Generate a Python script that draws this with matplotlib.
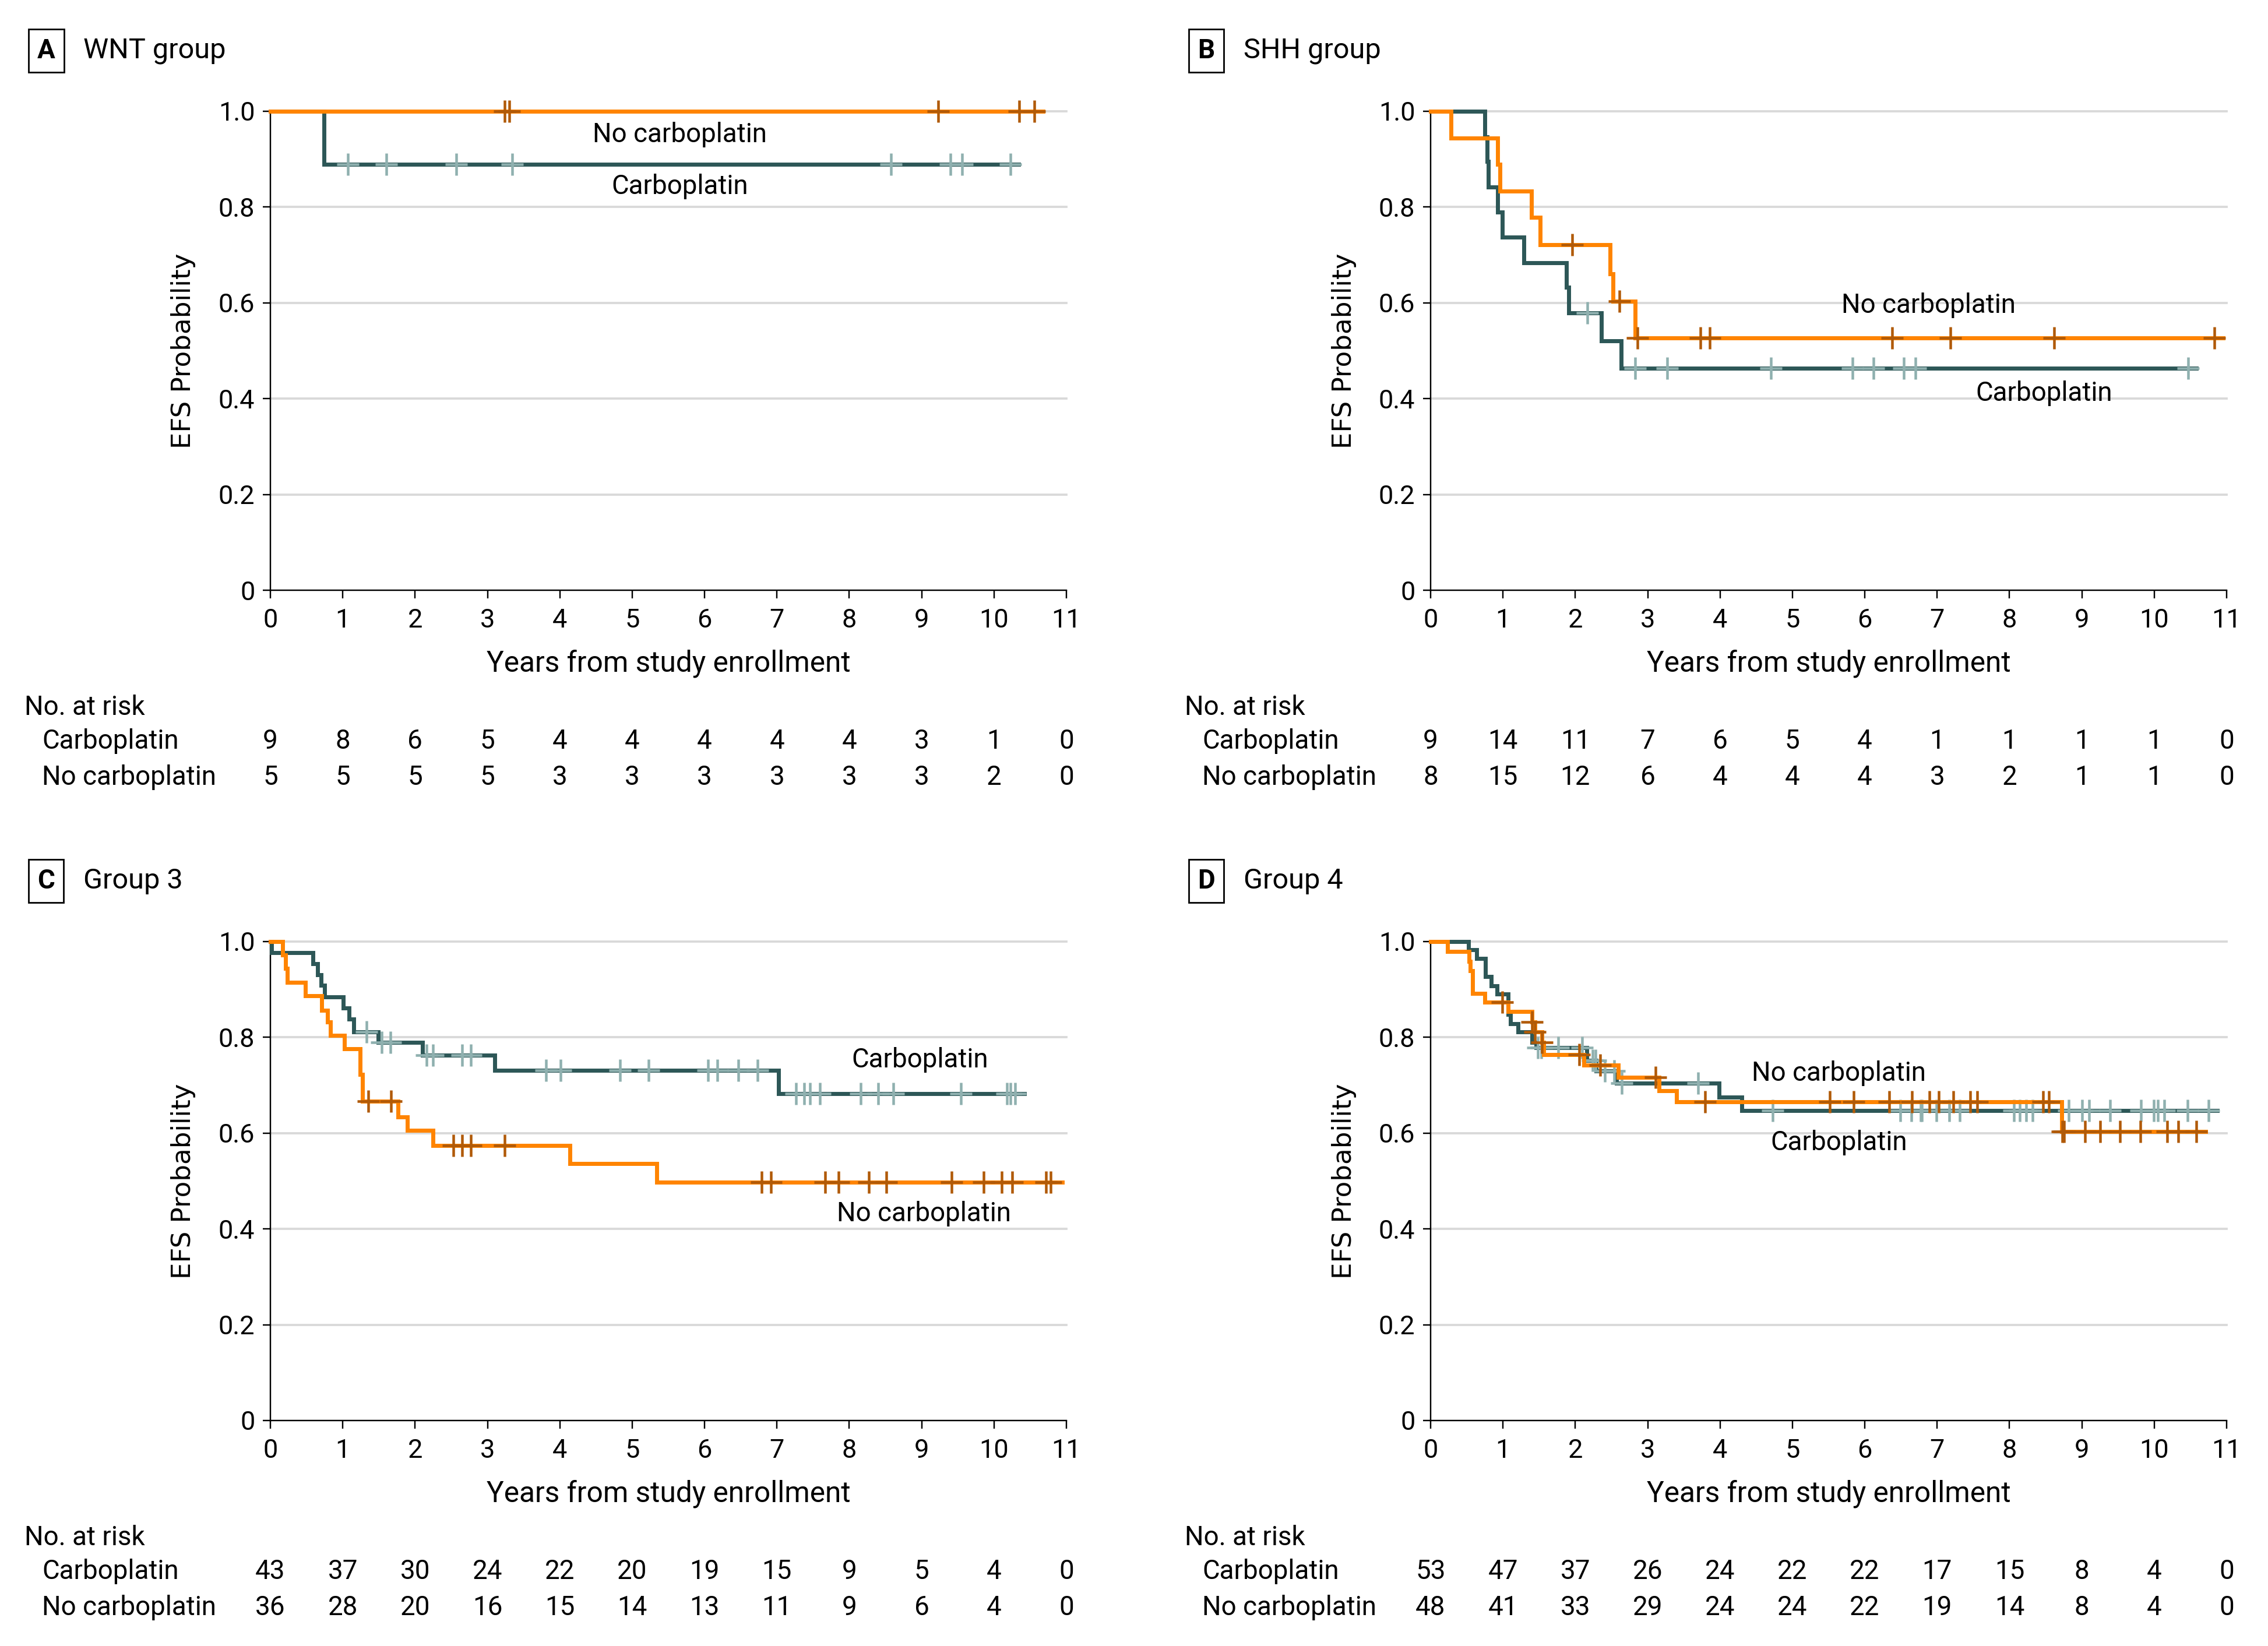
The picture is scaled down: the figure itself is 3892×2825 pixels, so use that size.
import numpy as np
import matplotlib
matplotlib.use("Agg")
import matplotlib.pyplot as plt
from matplotlib import font_manager as fm
from matplotlib.transforms import blended_transform_factory

# ---------------- data ----------------
years = list(range(12))

# WNT group
wnt_carbo_t = [0.74]
wnt_carbo_s = [0.889]
wnt_carbo_cens = [1.07, 1.60, 2.57, 3.34, 8.58, 9.40, 9.56, 10.23]
wnt_carbo_end = 10.34
wnt_nocarbo_t = []
wnt_nocarbo_s = []
wnt_nocarbo_cens = [3.24, 3.30, 9.23, 10.35, 10.56]
wnt_nocarbo_end = 10.68
wnt_risk_carbo = [9, 8, 6, 5, 4, 4, 4, 4, 4, 3, 1, 0]
wnt_risk_nocarbo = [5, 5, 5, 5, 3, 3, 3, 3, 3, 3, 2, 0]

# SHH group
shh_carbo_t = [0.75, 0.78, 0.80, 0.93, 0.99, 1.29, 1.88, 1.91, 2.36, 2.63]
shh_carbo_s = [0.947, 0.895, 0.842, 0.789, 0.737, 0.684, 0.632, 0.579, 0.521, 0.463]
shh_carbo_cens = [2.17, 2.83, 3.27, 4.70, 5.83, 6.12, 6.54, 6.70, 10.47]
shh_carbo_end = 10.58
shh_nocarbo_t = [0.28, 0.93, 0.96, 1.39, 1.51, 2.48, 2.52, 2.83]
shh_nocarbo_s = [0.944, 0.889, 0.833, 0.778, 0.722, 0.660, 0.603, 0.527]
shh_nocarbo_cens = [1.96, 2.61, 2.86, 3.73, 3.86, 6.38, 7.18, 8.62, 10.83]
shh_nocarbo_end = 10.95
shh_risk_carbo = [9, 14, 11, 7, 6, 5, 4, 1, 1, 1, 1, 0]
shh_risk_nocarbo = [8, 15, 12, 6, 4, 4, 4, 3, 2, 1, 1, 0]

# Group 3
g3_carbo_t = [0.02, 0.59, 0.65, 0.70, 0.75, 1.01, 1.09, 1.15, 1.49, 2.10, 3.10, 7.02]
g3_carbo_s = [0.977, 0.954, 0.931, 0.909, 0.884, 0.861, 0.838, 0.812, 0.789, 0.763, 0.731, 0.682]
g3_carbo_cens = [1.33, 1.54, 1.66, 2.16, 2.25, 2.65, 2.77, 3.81, 4.01, 4.83, 5.23, 6.05,
                 6.18, 6.47, 6.73, 7.26, 7.38, 7.46, 7.59, 8.16, 8.40, 8.61, 9.54,
                 10.18, 10.23, 10.29]
g3_carbo_end = 10.42
g3_nocarbo_t = [0.17, 0.21, 0.23, 0.48, 0.71, 0.79, 0.83, 1.02, 1.24, 1.27, 1.76, 1.89,
                2.25, 4.14, 5.34]
g3_nocarbo_s = [0.972, 0.944, 0.915, 0.887, 0.857, 0.832, 0.804, 0.776, 0.723, 0.667,
                0.634, 0.606, 0.574, 0.536, 0.498]
g3_nocarbo_cens = [1.35, 1.67, 2.53, 2.65, 2.77, 3.24, 6.79, 6.92, 7.67, 7.85, 8.27, 8.51,
                   9.41, 9.86, 10.11, 10.25, 10.72, 10.78]
g3_nocarbo_end = 10.94
g3_risk_carbo = [43, 37, 30, 24, 22, 20, 19, 15, 9, 5, 4, 0]
g3_risk_nocarbo = [36, 28, 20, 16, 15, 14, 13, 11, 9, 6, 4, 0]

# Group 4
g4_carbo_t = [0.52, 0.64, 0.76, 0.84, 0.92, 1.07, 1.10, 1.21, 1.40, 1.46, 2.16, 2.29,
              2.57, 3.99, 4.30]
g4_carbo_s = [0.983, 0.965, 0.927, 0.908, 0.890, 0.848, 0.829, 0.811, 0.789, 0.779,
              0.752, 0.730, 0.704, 0.675, 0.647]
g4_carbo_cens = [1.48, 1.53, 1.76, 2.09, 2.24, 2.28, 2.41, 2.54, 2.64, 3.70, 4.73, 6.49,
                 6.64, 6.77, 6.79, 6.99, 7.17, 7.31, 8.06, 8.14, 8.23, 8.32, 8.82, 9.00,
                 9.10, 9.39, 9.82, 9.99, 10.05, 10.14, 10.46, 10.75]
g4_carbo_end = 10.87
g4_nocarbo_t = [0.23, 0.53, 0.55, 0.58, 0.75, 1.07, 1.40, 1.44, 1.54, 1.56, 2.12, 2.59,
                3.16, 3.40, 8.72]
g4_nocarbo_s = [0.979, 0.959, 0.939, 0.892, 0.874, 0.854, 0.832, 0.811, 0.789, 0.764,
                0.742, 0.716, 0.688, 0.665, 0.604]
g4_nocarbo_cens = [0.99, 1.40, 1.44, 1.54, 2.05, 2.34, 3.11, 3.79, 5.52, 5.85, 6.34, 6.65,
                   6.89, 7.02, 7.22, 7.46, 7.55, 8.46, 8.54, 8.73, 8.75, 9.04, 9.25, 9.53,
                   9.81, 10.18, 10.33, 10.58]
g4_nocarbo_end = 10.71
g4_risk_carbo = [53, 47, 37, 26, 24, 22, 22, 17, 15, 8, 4, 0]
g4_risk_nocarbo = [48, 41, 33, 29, 24, 24, 22, 19, 14, 8, 4, 0]

panel_letters = ["A", "B", "C", "D"]
panel_titles = ["WNT group", "SHH group", "Group 3", "Group 4"]
label_carbo = "Carboplatin"
label_nocarbo = "No carboplatin"
# (x, y) of curve labels in data units
carbo_label_pos = [(5.66, 0.843), (8.48, 0.411), (8.98, 0.753), (5.64, 0.580)]
nocarbo_label_pos = [(5.66, 0.951), (6.88, 0.595), (9.03, 0.432), (5.64, 0.725)]

groups = [
    (wnt_carbo_t, wnt_carbo_s, wnt_carbo_cens, wnt_carbo_end,
     wnt_nocarbo_t, wnt_nocarbo_s, wnt_nocarbo_cens, wnt_nocarbo_end,
     wnt_risk_carbo, wnt_risk_nocarbo),
    (shh_carbo_t, shh_carbo_s, shh_carbo_cens, shh_carbo_end,
     shh_nocarbo_t, shh_nocarbo_s, shh_nocarbo_cens, shh_nocarbo_end,
     shh_risk_carbo, shh_risk_nocarbo),
    (g3_carbo_t, g3_carbo_s, g3_carbo_cens, g3_carbo_end,
     g3_nocarbo_t, g3_nocarbo_s, g3_nocarbo_cens, g3_nocarbo_end,
     g3_risk_carbo, g3_risk_nocarbo),
    (g4_carbo_t, g4_carbo_s, g4_carbo_cens, g4_carbo_end,
     g4_nocarbo_t, g4_nocarbo_s, g4_nocarbo_cens, g4_nocarbo_end,
     g4_risk_carbo, g4_risk_nocarbo),
]

# ---------------- style ----------------
avail = {f.name for f in fm.fontManager.ttflist}
main_font = "DejaVu Sans"
for cand in ["Roboto", "Lato", "Liberation Sans"]:
    if cand in avail:
        main_font = cand
        break
plt.rcParams["font.family"] = [main_font, "DejaVu Sans"]

W, H = 3892, 2825
DPI = 250
fig = plt.figure(figsize=(W / DPI, H / DPI), dpi=DPI)
fig.patch.set_facecolor("white")

def fx(px):
    return px / W

def fy(py):
    return 1 - py / H

C_CARBO = "#2d5757"
C_CARBO_CENS = "#8fb0af"
C_NOCARBO = "#ff8400"
C_NOCARBO_CENS = "#b05a08"
GRID = "#d9d9d9"

FS_TICK = 13.0
FS_TEXT = 13.2
FS_XLAB = 14.3
FS_TITLE = 14.0
LW = 2.0

DX, DY = 1991, 1425

def km_arrays(t, s, end):
    tt = [0.0] + list(t) + [end]
    ss = [1.0] + list(s) + [s[-1] if len(s) else 1.0]
    return np.array(tt), np.array(ss)

def surv_at(t, s, x):
    tt = np.array([0.0] + list(t))
    ss = np.array([1.0] + list(s))
    idx = np.searchsorted(tt, np.asarray(x), side="right") - 1
    return ss[idx]

for i, grp in enumerate(groups):
    col, row = i % 2, i // 2
    (ct, cs, cc, ce, nt, ns, nc, ne, rc, rn) = grp
    left = 464 + col * DX
    top = 191 + row * DY
    aw, ah = 1366, 822
    ax = fig.add_axes([fx(left), fy(top + ah), aw / W, ah / H])
    ax.set_xlim(0, 11)
    ax.set_ylim(0, 1.0)
    for y in [0.2, 0.4, 0.6, 0.8, 1.0]:
        ax.axhline(y, color=GRID, lw=1.1, zorder=0, clip_on=False)

    # Carboplatin
    xt, ys = km_arrays(ct, cs, ce)
    ax.plot(xt, ys, drawstyle="steps-post", color=C_CARBO, lw=LW, zorder=2,
            clip_on=False, solid_joinstyle="miter")
    ax.plot(cc, surv_at(ct, cs, cc), ls="none", marker="+", ms=11, mew=1.3,
            color=C_CARBO_CENS, zorder=3, clip_on=False)
    # No carboplatin
    xt, ys = km_arrays(nt, ns, ne)
    ax.plot(xt, ys, drawstyle="steps-post", color=C_NOCARBO, lw=LW, zorder=4,
            clip_on=False, solid_joinstyle="miter")
    ax.plot(nc, surv_at(nt, ns, nc), ls="none", marker="+", ms=11, mew=1.3,
            color=C_NOCARBO_CENS, zorder=5, clip_on=False)

    ax.text(*carbo_label_pos[i], label_carbo, ha="center", va="center",
            fontsize=FS_TEXT, zorder=6)
    ax.text(*nocarbo_label_pos[i], label_nocarbo, ha="center", va="center",
            fontsize=FS_TEXT, zorder=6)

    for sp in ["top", "right"]:
        ax.spines[sp].set_visible(False)
    for sp in ["left", "bottom"]:
        ax.spines[sp].set_linewidth(0.7)
        ax.spines[sp].set_zorder(1)
    ax.set_xticks(years)
    ax.set_xticklabels([str(v) for v in years])
    ax.set_yticks([0, 0.2, 0.4, 0.6, 0.8, 1.0])
    ax.set_yticklabels(["0", "0.2", "0.4", "0.6", "0.8", "1.0"])
    ax.tick_params(axis="x", length=4.0, width=0.7, pad=5.0, labelsize=FS_TICK)
    ax.tick_params(axis="y", length=3.7, width=0.7, pad=4.0, labelsize=FS_TICK)

    # y label
    fig.text(fx(315 + col * DX), fy(602 + row * DY), "EFS Probability", rotation=90,
             ha="center", va="center", fontsize=13.0, family="DejaVu Sans")
    # x label
    fig.text(fx(1147 + col * DX), fy(1139 + row * DY), "Years from study enrollment",
             ha="center", va="center", fontsize=FS_XLAB)

    # panel letter & title
    fig.text(fx(79 + col * DX), fy(87 + row * DY), panel_letters[i], ha="center",
             va="center", fontsize=FS_TEXT, fontweight="bold",
             bbox=dict(boxstyle="square,pad=0.33", fc="white", ec="black", lw=0.8))
    fig.text(fx(143 + col * DX), fy(87 + row * DY), panel_titles[i], ha="left",
             va="center", fontsize=FS_TITLE)

    # risk table
    fig.text(fx(42 + col * DX), fy(1214 + row * DY), "No. at risk", ha="left",
             va="center", fontsize=FS_TEXT)
    fig.text(fx(72 + col * DX), fy(1272 + row * DY), label_carbo, ha="left",
             va="center", fontsize=FS_TEXT)
    fig.text(fx(72 + col * DX), fy(1334 + row * DY), label_nocarbo, ha="left",
             va="center", fontsize=FS_TEXT)
    tr = blended_transform_factory(ax.transData, fig.transFigure)
    for xv, a, b in zip(years, rc, rn):
        ax.text(xv, fy(1272 + row * DY), str(a), transform=tr, ha="center",
                va="center", fontsize=FS_TEXT, clip_on=False)
        ax.text(xv, fy(1334 + row * DY), str(b), transform=tr, ha="center",
                va="center", fontsize=FS_TEXT, clip_on=False)

fig.savefig("out.png", dpi=DPI, facecolor="white")
